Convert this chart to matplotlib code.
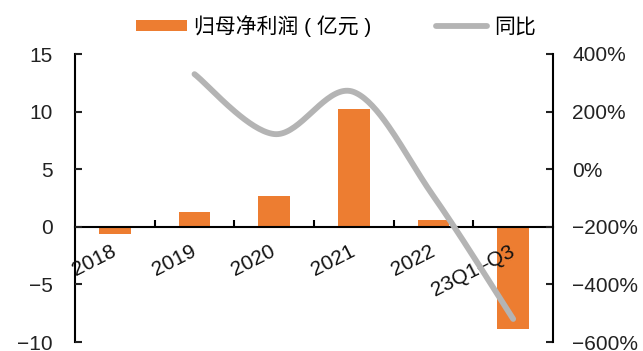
import matplotlib
matplotlib.use('Agg')
import matplotlib.pyplot as plt
import numpy as np
from matplotlib.lines import Line2D
from matplotlib.patches import Patch
from matplotlib.ticker import FuncFormatter, FixedLocator
from matplotlib.transforms import ScaledTranslation

plt.rcParams['font.family'] = ['Liberation Sans', 'Noto Sans CJK SC', 'DejaVu Sans']
plt.rcParams['axes.unicode_minus'] = True

periods = ['2018', '2019', '2020', '2021', '2022', '23Q1–Q3']
net_profit = [-0.6, 1.3, 2.7, 10.2, 0.6, -8.9]          # 亿元
yoy_periods = ['2019', '2020', '2021', '2022', '23Q1–Q3']
yoy_pct = [330, 122, 268, -94, -520]                   # %
legend_labels = ['归母净利润 ( 亿元 )', '同比']

BAR_COLOR = '#ED7D31'
LINE_COLOR = '#B4B4B4'
FS = 15


def smooth_curve(x, y, n=40):
    # catmull-rom style smoothing through every point
    x = np.asarray(x, dtype=float)
    y = np.asarray(y, dtype=float)
    px = np.concatenate([[x[0]], x, [x[-1]]])
    py = np.concatenate([[y[0]], y, [y[-1]]])
    xs, ys = [], []
    t = np.linspace(0, 1, n)
    for i in range(1, len(px) - 2):
        p0, p1, p2, p3 = px[i - 1], px[i], px[i + 1], px[i + 2]
        q0, q1, q2, q3 = py[i - 1], py[i], py[i + 1], py[i + 2]
        c1x, c1y = p1 + (p2 - p0) / 6, q1 + (q2 - q0) / 6
        c2x, c2y = p2 - (p3 - p1) / 6, q2 - (q3 - q1) / 6
        b = [(1 - t) ** 3, 3 * (1 - t) ** 2 * t, 3 * (1 - t) * t ** 2, t ** 3]
        xs.append(b[0] * p1 + b[1] * c1x + b[2] * c2x + b[3] * p2)
        ys.append(b[0] * q1 + b[1] * c1y + b[2] * c2y + b[3] * q2)
    return np.concatenate(xs), np.concatenate(ys)


fig = plt.figure(figsize=(6.43, 3.51), dpi=100)
ax = fig.add_axes([75 / 643, 1 - 342 / 351, (553 - 75) / 643, (342 - 54) / 351])
ax.set_axisbelow(False)

x = np.arange(len(periods))
ax.bar(x, net_profit, width=0.4, color=BAR_COLOR, zorder=2)
ax.set_xlim(-0.5, len(periods) - 0.5)
ax.set_ylim(-10, 15)
ax.set_yticks([-10, -5, 0, 5, 10, 15])

for s in ['top', 'right']:
    ax.spines[s].set_visible(False)
ax.spines['bottom'].set_position(('data', 0))
ax.spines['left'].set_linewidth(1.5)
ax.spines['bottom'].set_linewidth(1.5)

ax.set_xticks(x)
ax.set_xticklabels(periods, rotation=27, ha='right', va='center', rotation_mode='anchor')
ax.tick_params(axis='x', length=0, pad=17, labelsize=FS)
ax.xaxis.set_minor_locator(FixedLocator(x[:-1] + 0.5))
ax.tick_params(axis='x', which='minor', direction='in', length=5, width=1.5)
ax.tick_params(axis='y', direction='in', length=5, width=1.5, pad=16, labelsize=FS, colors='#222222')
for lbl in ax.get_xticklabels():
    lbl.set_color('#111111')
    lbl.set_transform(lbl.get_transform() + ScaledTranslation(0, 0, fig.dpi_scale_trans))

ax2 = ax.twinx()
ax2.set_position(ax.get_position())
ax2.set_ylim(-600, 400)
ax2.set_yticks([-600, -400, -200, 0, 200, 400])
ax2.yaxis.set_major_formatter(FuncFormatter(lambda v, _: f'{v:.0f}%'.replace('-', '\u2212')))
for s in ['top', 'left', 'bottom']:
    ax2.spines[s].set_visible(False)
ax2.spines['right'].set_linewidth(1.5)
ax2.tick_params(axis='y', direction='in', length=5, width=1.5, pad=14, labelsize=FS, colors='#222222')

lx = [periods.index(p) for p in yoy_periods]
sx, sy = smooth_curve(lx, yoy_pct)
ax2.plot(sx, sy, color=LINE_COLOR, lw=4.2, solid_capstyle='round', zorder=3)

handles = [Patch(facecolor=BAR_COLOR, edgecolor='none'),
           Line2D([0], [0], color=LINE_COLOR, lw=4.2, solid_capstyle='round')]
fig.legend(handles, legend_labels, loc='center', bbox_to_anchor=(0.522, 1 - 26 / 351),
           ncol=2, frameon=False, fontsize=FS, handlelength=2.45, handleheight=0.45,
           columnspacing=3.1, handletextpad=0.35)

fig.savefig('out.png', dpi=100)
